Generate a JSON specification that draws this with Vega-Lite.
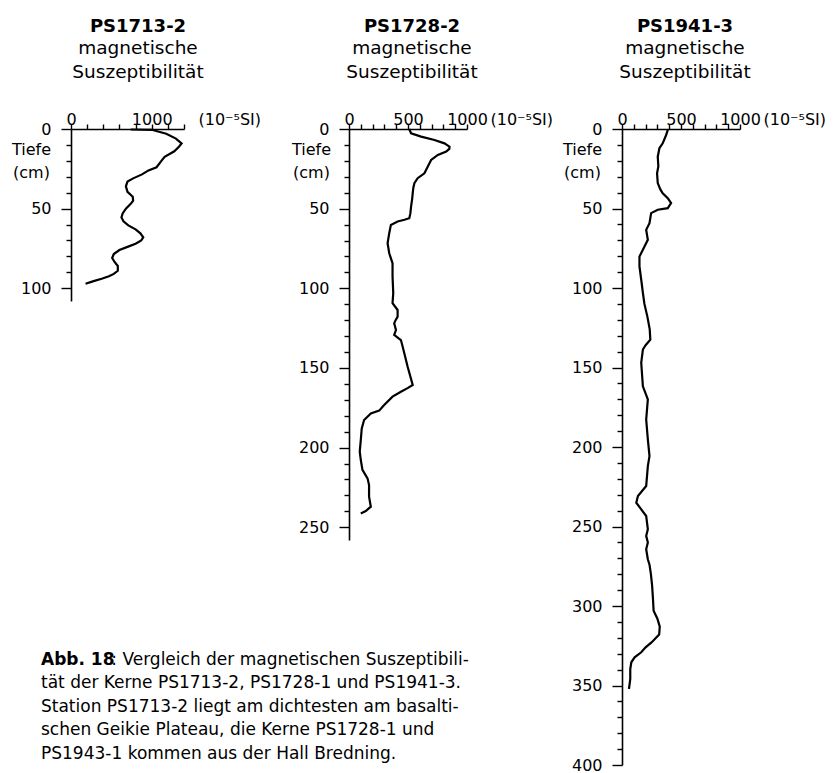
{
  "$schema": "https://vega.github.io/schema/vega-lite/v6.json",
  "autosize": {"type": "pad"},
  "padding": {"left": 11, "top": 17, "right": 0, "bottom": 0},
  "background": "white",
  "bounds": "flush",
  "spacing": 155,
  "config": {
    "font": "DejaVu Sans",
    "view": {"stroke": null},
    "axis": {
      "grid": false,
      "domainColor": "black",
      "domainWidth": 1.6,
      "tickColor": "black",
      "tickWidth": 1.4,
      "labelColor": "black",
      "labelFont": "DejaVu Sans",
      "labelFontSize": 16,
      "labelFlush": false,
      "labelOverlap": false,
      "titleColor": "black",
      "titleFont": "DejaVu Sans",
      "titleFontWeight": "normal",
      "titleFontSize": 16
    }
  },
  "title": {
    "text": "Abb. 18",
    "subtitle": [
      "\u200b\u00a0\u00a0\u00a0\u00a0\u00a0\u00a0\u00a0\u00a0\u00a0\u00a0\u00a0\u00a0\u00a0: Vergleich der magnetischen Suszeptibili-",
      "tät der Kerne PS1713-2, PS1728-1 und PS1941-3.",
      "Station PS1713-2 liegt am dichtesten am basalti-",
      "schen Geikie Plateau, die  Kerne PS1728-1 und",
      "PS1943-1 kommen aus der Hall Bredning."
    ],
    "orient": "top",
    "anchor": "start",
    "frame": "group",
    "offset": 0,
    "dx": -30,
    "dy": 745,
    "font": "DejaVu Sans",
    "fontSize": 17,
    "fontWeight": "bold",
    "color": "black",
    "subtitleFont": "DejaVu Sans",
    "subtitleFontSize": 17,
    "subtitleFontWeight": "normal",
    "subtitleColor": "black",
    "subtitlePadding": -17,
    "subtitleLineHeight": 23.5
  },
  "datasets": {
    "ps1713": [
      {"depth": 0.3, "chi": 740}, {"depth": 0.5, "chi": 1000}, {"depth": 3, "chi": 1180}, {"depth": 6, "chi": 1300},
      {"depth": 9, "chi": 1370}, {"depth": 11, "chi": 1340}, {"depth": 14, "chi": 1280}, {"depth": 17.5, "chi": 1160},
      {"depth": 20, "chi": 1120}, {"depth": 24, "chi": 1060}, {"depth": 26, "chi": 960}, {"depth": 28.5, "chi": 880},
      {"depth": 31, "chi": 770}, {"depth": 33, "chi": 700}, {"depth": 36, "chi": 680}, {"depth": 39.5, "chi": 700},
      {"depth": 42.5, "chi": 765}, {"depth": 45, "chi": 770}, {"depth": 47, "chi": 740}, {"depth": 50, "chi": 680},
      {"depth": 53, "chi": 640}, {"depth": 55.5, "chi": 625}, {"depth": 58, "chi": 650}, {"depth": 60.5, "chi": 710},
      {"depth": 63, "chi": 800}, {"depth": 65.5, "chi": 860}, {"depth": 68, "chi": 895}, {"depth": 70, "chi": 870},
      {"depth": 72, "chi": 800}, {"depth": 74, "chi": 700}, {"depth": 76, "chi": 600}, {"depth": 78.5, "chi": 530},
      {"depth": 81, "chi": 510}, {"depth": 83.5, "chi": 540}, {"depth": 86, "chi": 580}, {"depth": 89, "chi": 580},
      {"depth": 91, "chi": 530}, {"depth": 92.5, "chi": 470}, {"depth": 94, "chi": 380}, {"depth": 95.5, "chi": 280},
      {"depth": 97.2, "chi": 180}
    ],
    "ps1728": [
      {"depth": 0, "chi": 510}, {"depth": 2.7, "chi": 526}, {"depth": 4.8, "chi": 611}, {"depth": 6.9, "chi": 724},
      {"depth": 9, "chi": 809}, {"depth": 11.1, "chi": 852}, {"depth": 12.5, "chi": 850}, {"depth": 14.2, "chi": 824},
      {"depth": 16.3, "chi": 753}, {"depth": 19.4, "chi": 696}, {"depth": 23.6, "chi": 668}, {"depth": 27.8, "chi": 639},
      {"depth": 30.9, "chi": 582}, {"depth": 34, "chi": 554}, {"depth": 37, "chi": 545}, {"depth": 40.3, "chi": 540},
      {"depth": 44, "chi": 535}, {"depth": 48.7, "chi": 526}, {"depth": 53, "chi": 520}, {"depth": 56, "chi": 511},
      {"depth": 57, "chi": 470}, {"depth": 58.1, "chi": 412}, {"depth": 60.2, "chi": 355}, {"depth": 65.4, "chi": 341},
      {"depth": 71.7, "chi": 327}, {"depth": 78, "chi": 341}, {"depth": 84.3, "chi": 369}, {"depth": 92.6, "chi": 369},
      {"depth": 103, "chi": 375}, {"depth": 109.4, "chi": 369}, {"depth": 113.6, "chi": 412}, {"depth": 117.8, "chi": 412},
      {"depth": 120, "chi": 395}, {"depth": 122, "chi": 383}, {"depth": 126.2, "chi": 398}, {"depth": 129.3, "chi": 383},
      {"depth": 132.5, "chi": 440}, {"depth": 136.7, "chi": 455}, {"depth": 149.2, "chi": 497}, {"depth": 160.7, "chi": 540},
      {"depth": 162.5, "chi": 500}, {"depth": 164.9, "chi": 440}, {"depth": 168, "chi": 369}, {"depth": 173.3, "chi": 298},
      {"depth": 176.8, "chi": 256}, {"depth": 178.5, "chi": 185}, {"depth": 182.7, "chi": 128}, {"depth": 187.9, "chi": 108},
      {"depth": 195.2, "chi": 100}, {"depth": 202.6, "chi": 91}, {"depth": 207.8, "chi": 100}, {"depth": 214, "chi": 114},
      {"depth": 219.3, "chi": 157}, {"depth": 223.5, "chi": 170}, {"depth": 230.8, "chi": 170}, {"depth": 237.1, "chi": 185},
      {"depth": 239.8, "chi": 142}, {"depth": 241.3, "chi": 100}
    ],
    "ps1941": [
      {"depth": 0.6, "chi": 388}, {"depth": 3.8, "chi": 374}, {"depth": 9, "chi": 345}, {"depth": 12.1, "chi": 317},
      {"depth": 17.4, "chi": 303}, {"depth": 23.6, "chi": 308}, {"depth": 27.8, "chi": 297}, {"depth": 34, "chi": 303},
      {"depth": 38, "chi": 325}, {"depth": 40.4, "chi": 345}, {"depth": 43.5, "chi": 388}, {"depth": 46.6, "chi": 416},
      {"depth": 49.8, "chi": 388}, {"depth": 50.8, "chi": 303}, {"depth": 52.9, "chi": 247}, {"depth": 59.2, "chi": 233},
      {"depth": 63.4, "chi": 205}, {"depth": 69.7, "chi": 219}, {"depth": 76, "chi": 177}, {"depth": 80.2, "chi": 148},
      {"depth": 86.4, "chi": 148}, {"depth": 94.8, "chi": 163}, {"depth": 103, "chi": 177}, {"depth": 110, "chi": 190},
      {"depth": 118, "chi": 215}, {"depth": 126, "chi": 235}, {"depth": 132.5, "chi": 240}, {"depth": 136, "chi": 200},
      {"depth": 138.7, "chi": 177}, {"depth": 147, "chi": 163}, {"depth": 161.8, "chi": 177}, {"depth": 170.1, "chi": 219},
      {"depth": 182.7, "chi": 205}, {"depth": 195.2, "chi": 219}, {"depth": 205.7, "chi": 233}, {"depth": 212, "chi": 219},
      {"depth": 224.5, "chi": 205}, {"depth": 230.8, "chi": 135}, {"depth": 235, "chi": 121}, {"depth": 239.2, "chi": 163},
      {"depth": 243.4, "chi": 205}, {"depth": 251.7, "chi": 219}, {"depth": 255.9, "chi": 205}, {"depth": 260, "chi": 219},
      {"depth": 264.3, "chi": 205}, {"depth": 270.6, "chi": 219}, {"depth": 274, "chi": 233}, {"depth": 280, "chi": 245},
      {"depth": 287, "chi": 255}, {"depth": 295, "chi": 262}, {"depth": 303, "chi": 268}, {"depth": 308, "chi": 300},
      {"depth": 313, "chi": 320}, {"depth": 318, "chi": 315}, {"depth": 322.9, "chi": 250}, {"depth": 326, "chi": 200},
      {"depth": 329.1, "chi": 163}, {"depth": 332.3, "chi": 107}, {"depth": 335.4, "chi": 79}, {"depth": 339.6, "chi": 70},
      {"depth": 345.9, "chi": 70}, {"depth": 352.2, "chi": 59}
    ]
  },
  "hconcat": [
    {
      "width": 123,
      "height": 172,
      "data": {"name": "ps1713"},
      "title": {
        "text": "PS1713-2", "subtitle": ["magnetische", "Suszeptibilität"],
        "anchor": "middle", "frame": "group", "dx": 5.5, "offset": 30,
        "font": "DejaVu Sans", "fontSize": 18, "fontWeight": "bold", "color": "black",
        "subtitleFont": "DejaVu Sans", "subtitleFontSize": 18.5, "subtitleColor": "black",
        "subtitlePadding": 3.4, "subtitleLineHeight": 23.5
      },
      "mark": {"type": "line", "color": "black", "strokeWidth": 2.2},
      "encoding": {
        "x": {
          "field": "chi", "type": "quantitative",
          "scale": {"domain": [0, 1400], "range": [0, 113], "nice": false},
          "axis": {
            "orient": "top", "values": [0, 200, 400, 600, 800, 1000, 1200, 1400], "format": "d",
            "labelExpr": "datum.value === 0 || datum.value === 1000 ? datum.label : ''",
            "tickSize": 5, "labelPadding": 0, "labelBaseline": "alphabetic",
            "title": "(10⁻⁵SI)", "titleX": 127, "titleY": -5, "titleAlign": "left", "titleAnchor": "start", "titleBaseline": "alphabetic"
          }
        },
        "y": {
          "field": "depth", "type": "quantitative",
          "scale": {"domain": [0, 108], "reverse": true, "nice": false},
          "axis": {
            "orient": "left", "values": [0, 10, 20, 30, 40, 50, 60, 70, 80, 90, 100],
            "labelExpr": "datum.value % 50 === 0 ? datum.label : ''",
            "tickSize": {"condition": {"test": "datum.value % 50 === 0", "value": 10}, "value": 5},
            "labelPadding": 10,
            "title": ["Tiefe", "(cm)"], "titleAngle": 0, "titleX": -40, "titleY": 25.5,
            "titleAlign": "center", "titleBaseline": "alphabetic", "titleLineHeight": 23, "titleFontSize": 16
          }
        },
        "order": {"field": "depth", "type": "quantitative"}
      }
    },
    {
      "width": 118,
      "height": 411,
      "data": {"name": "ps1728"},
      "title": {
        "text": "PS1728-2", "subtitle": ["magnetische", "Suszeptibilität"],
        "anchor": "middle", "frame": "group", "dx": 4, "offset": 30,
        "font": "DejaVu Sans", "fontSize": 18, "fontWeight": "bold", "color": "black",
        "subtitleFont": "DejaVu Sans", "subtitleFontSize": 18.5, "subtitleColor": "black",
        "subtitlePadding": 3.4, "subtitleLineHeight": 23.5
      },
      "mark": {"type": "line", "color": "black", "strokeWidth": 2.2},
      "encoding": {
        "x": {
          "field": "chi", "type": "quantitative",
          "scale": {"domain": [0, 1000], "nice": false},
          "axis": {
            "orient": "top", "values": [0, 100, 200, 300, 400, 500, 600, 700, 800, 900, 1000], "format": "d",
            "labelExpr": "datum.value % 500 === 0 ? datum.label : ''",
            "tickSize": 5, "labelPadding": 0, "labelBaseline": "alphabetic",
            "title": "(10⁻⁵SI)", "titleX": 141, "titleY": -5, "titleAlign": "left", "titleAnchor": "start", "titleBaseline": "alphabetic"
          }
        },
        "y": {
          "field": "depth", "type": "quantitative",
          "scale": {"domain": [0, 258], "reverse": true, "nice": false},
          "axis": {
            "orient": "left", "values": [0, 10, 20, 30, 40, 50, 60, 70, 80, 90, 100, 110, 120, 130, 140, 150, 160, 170, 180, 190, 200, 210, 220, 230, 240, 250],
            "labelExpr": "datum.value % 50 === 0 ? datum.label : ''",
            "tickSize": {"condition": {"test": "datum.value % 50 === 0", "value": 10}, "value": 5},
            "labelPadding": 10,
            "title": ["Tiefe", "(cm)"], "titleAngle": 0, "titleX": -38, "titleY": 25.5,
            "titleAlign": "center", "titleBaseline": "alphabetic", "titleLineHeight": 23, "titleFontSize": 16
          }
        },
        "order": {"field": "depth", "type": "quantitative"}
      }
    },
    {
      "width": 118,
      "height": 636,
      "data": {"name": "ps1941"},
      "title": {
        "text": "PS1941-3", "subtitle": ["magnetische", "Suszeptibilität"],
        "anchor": "middle", "frame": "group", "dx": 4, "offset": 30,
        "font": "DejaVu Sans", "fontSize": 18, "fontWeight": "bold", "color": "black",
        "subtitleFont": "DejaVu Sans", "subtitleFontSize": 18.5, "subtitleColor": "black",
        "subtitlePadding": 3.4, "subtitleLineHeight": 23.5
      },
      "mark": {"type": "line", "color": "black", "strokeWidth": 2.2},
      "encoding": {
        "x": {
          "field": "chi", "type": "quantitative",
          "scale": {"domain": [0, 1000], "nice": false},
          "axis": {
            "orient": "top", "values": [0, 100, 200, 300, 400, 500, 600, 700, 800, 900, 1000], "format": "d",
            "labelExpr": "datum.value % 500 === 0 ? datum.label : ''",
            "tickSize": 5, "labelPadding": 0, "labelBaseline": "alphabetic",
            "title": "(10⁻⁵SI)", "titleX": 141, "titleY": -5, "titleAlign": "left", "titleAnchor": "start", "titleBaseline": "alphabetic"
          }
        },
        "y": {
          "field": "depth", "type": "quantitative",
          "scale": {"domain": [0, 400], "reverse": true, "nice": false},
          "axis": {
            "orient": "left", "values": [0, 10, 20, 30, 40, 50, 60, 70, 80, 90, 100, 110, 120, 130, 140, 150, 160, 170, 180, 190, 200, 210, 220, 230, 240, 250, 260, 270, 280, 290, 300, 310, 320, 330, 340, 350, 360, 370, 380, 390, 400],
            "labelExpr": "datum.value % 50 === 0 ? datum.label : ''",
            "tickSize": {"condition": {"test": "datum.value % 50 === 0", "value": 10}, "value": 5},
            "labelPadding": 10,
            "title": ["Tiefe", "(cm)"], "titleAngle": 0, "titleX": -40, "titleY": 25.5,
            "titleAlign": "center", "titleBaseline": "alphabetic", "titleLineHeight": 23, "titleFontSize": 16
          }
        },
        "order": {"field": "depth", "type": "quantitative"}
      }
    }
  ]
}
